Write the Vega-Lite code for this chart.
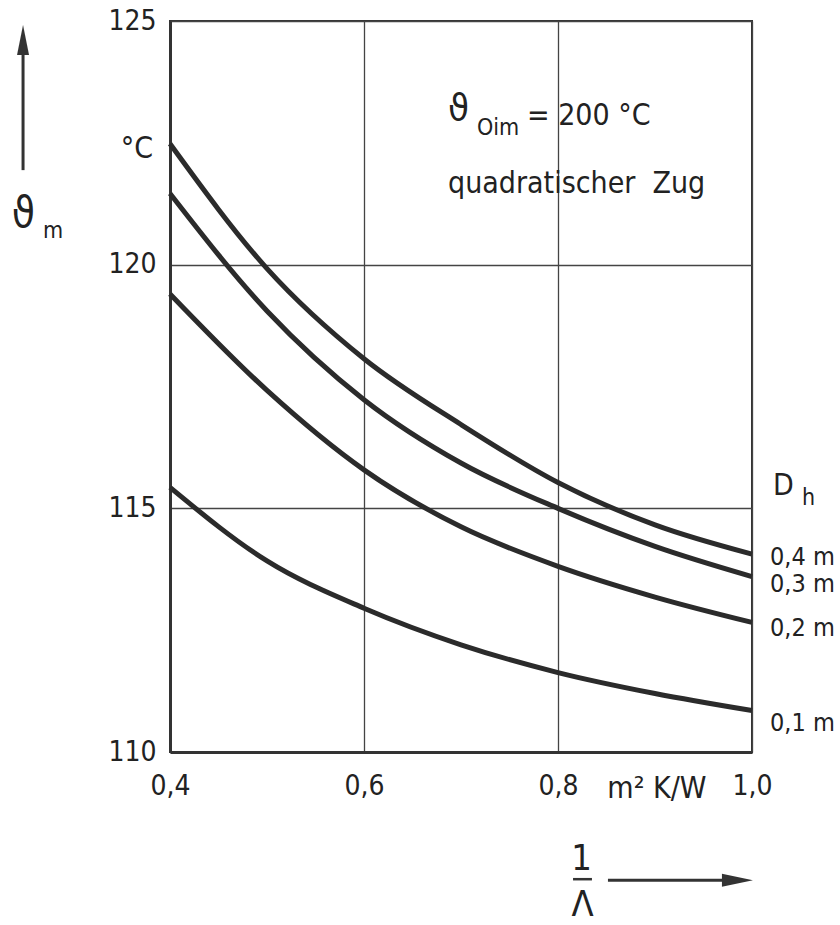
{
  "$schema": "https://vega.github.io/schema/vega-lite/v6.json",
  "width": 582,
  "height": 731,
  "autosize": {"type": "none"},
  "padding": {"left": 170, "top": 21, "right": 88, "bottom": 173},
  "background": "white",
  "config": {
    "font": "DejaVu Sans Condensed",
    "view": {"stroke": "#333", "strokeWidth": 2},
    "text": {"font": "DejaVu Sans Condensed", "color": "#222", "baseline": "alphabetic"}
  },
  "datasets": {
    "curves": [
      {"D": "0,4 m", "x": 0.4, "y": 122.48},
      {"D": "0,4 m", "x": 0.5, "y": 119.92},
      {"D": "0,4 m", "x": 0.6, "y": 118.07},
      {"D": "0,4 m", "x": 0.7, "y": 116.72},
      {"D": "0,4 m", "x": 0.8, "y": 115.53},
      {"D": "0,4 m", "x": 0.9, "y": 114.66},
      {"D": "0,4 m", "x": 1.0, "y": 114.06},
      {"D": "0,3 m", "x": 0.4, "y": 121.46},
      {"D": "0,3 m", "x": 0.5, "y": 119.05},
      {"D": "0,3 m", "x": 0.6, "y": 117.23},
      {"D": "0,3 m", "x": 0.7, "y": 115.93},
      {"D": "0,3 m", "x": 0.8, "y": 115.0},
      {"D": "0,3 m", "x": 0.9, "y": 114.22},
      {"D": "0,3 m", "x": 1.0, "y": 113.6},
      {"D": "0,2 m", "x": 0.4, "y": 119.4},
      {"D": "0,2 m", "x": 0.5, "y": 117.42},
      {"D": "0,2 m", "x": 0.6, "y": 115.79},
      {"D": "0,2 m", "x": 0.7, "y": 114.62},
      {"D": "0,2 m", "x": 0.8, "y": 113.81},
      {"D": "0,2 m", "x": 0.9, "y": 113.18},
      {"D": "0,2 m", "x": 1.0, "y": 112.66},
      {"D": "0,1 m", "x": 0.4, "y": 115.43},
      {"D": "0,1 m", "x": 0.5, "y": 113.92},
      {"D": "0,1 m", "x": 0.6, "y": 112.95},
      {"D": "0,1 m", "x": 0.7, "y": 112.2},
      {"D": "0,1 m", "x": 0.8, "y": 111.63},
      {"D": "0,1 m", "x": 0.9, "y": 111.2},
      {"D": "0,1 m", "x": 1.0, "y": 110.85}
    ]
  },
  "encoding": {
    "x": {
      "field": "x", "type": "quantitative",
      "scale": {"domain": [0.4, 1.0], "nice": false, "zero": false},
      "axis": {
        "title": null, "values": [0.4, 0.6, 0.8, 1.0],
        "labelExpr": "replace(format(datum.value, '.1f'), '.', ',')",
        "ticks": false, "grid": true, "gridColor": "#444", "gridWidth": 1.3,
        "domainColor": "#333", "domainWidth": 3,
        "labelFontSize": 28, "labelFont": "DejaVu Sans Condensed", "labelColor": "#222",
        "labelPadding": 20, "labelFlush": false
      }
    },
    "y": {
      "field": "y", "type": "quantitative",
      "scale": {"domain": [110, 125], "nice": false, "zero": false},
      "axis": {
        "title": null, "values": [110, 115, 120, 125], "format": "d",
        "ticks": false, "grid": true, "gridColor": "#444", "gridWidth": 1.3,
        "domainColor": "#333", "domainWidth": 3,
        "labelFontSize": 28, "labelFont": "DejaVu Sans Condensed", "labelColor": "#222",
        "labelPadding": 14
      }
    }
  },
  "layer": [
    {
      "data": {"name": "curves"},
      "mark": {"type": "line", "interpolate": "monotone", "strokeWidth": 5, "color": "#2b2b2b", "strokeCap": "butt"},
      "encoding": {"detail": {"field": "D"}}
    },
    {
      "data": {"values": [
        {"x": 1.0186, "y": 113.83, "t": "0,4 m"},
        {"x": 1.0186, "y": 113.28, "t": "0,3 m"},
        {"x": 1.0186, "y": 112.39, "t": "0,2 m"},
        {"x": 1.0186, "y": 110.44, "t": "0,1 m"}
      ]},
      "mark": {"type": "text", "align": "left", "fontSize": 25},
      "encoding": {"text": {"field": "t"}}
    },
    {
      "data": {"values": [
        {"x": 0.768, "y": 122.86, "t": "= 200 °C"},
        {"x": 0.6866, "y": 121.47, "t": "quadratischer\u00a0\u00a0Zug"},
        {"x": 1.0216, "y": 115.27, "t": "D"}
      ]},
      "mark": {"type": "text", "align": "left", "fontSize": 30},
      "encoding": {"text": {"field": "t"}}
    },
    {
      "data": {"values": [
        {"x": 0.3825, "y": 122.19, "t": "°C"}
      ]},
      "mark": {"type": "text", "align": "right", "fontSize": 30},
      "encoding": {"text": {"field": "t"}}
    },
    {
      "data": {"values": [
        {"x": 0.902, "y": 109.05, "t": "m² K/W"}
      ]},
      "mark": {"type": "text", "align": "center", "fontSize": 30},
      "encoding": {"text": {"field": "t"}}
    },
    {
      "data": {"values": [
        {"x": 0.7165, "y": 122.66, "t": "Oim"},
        {"x": 1.0515, "y": 115.06, "t": "h"},
        {"x": 0.269, "y": 120.54, "t": "m"}
      ]},
      "mark": {"type": "text", "align": "left", "fontSize": 23},
      "encoding": {"text": {"field": "t"}}
    },
    {
      "data": {"values": [
        {"x": 0.6866, "y": 122.97, "t": "ϑ"}
      ]},
      "mark": {"type": "text", "align": "left", "fontSize": 38},
      "encoding": {"text": {"field": "t"}}
    },
    {
      "data": {"values": [
        {"x": 0.249, "y": 120.77, "t": "ϑ"}
      ]},
      "mark": {"type": "text", "align": "center", "fontSize": 42},
      "encoding": {"text": {"field": "t"}}
    },
    {
      "data": {"values": [
        {"x": 0.8242, "y": 107.57, "t": "1"},
        {"x": 0.8253, "y": 106.64, "t": "Λ"}
      ]},
      "mark": {"type": "text", "align": "center", "fontSize": 36},
      "encoding": {"text": {"field": "t"}}
    },
    {
      "data": {"values": [
        {"x": 0.2485, "x2": 0.2485, "y": 124.4, "y2": 121.94},
        {"x": 0.8515, "x2": 0.972, "y": 107.37, "y2": 107.37}
      ]},
      "mark": {"type": "rule", "strokeWidth": 3, "color": "#333"},
      "encoding": {"x2": {"field": "x2"}, "y2": {"field": "y2"}}
    },
    {
      "data": {"values": [
        {"x": 0.8155, "x2": 0.835, "y": 107.39}
      ]},
      "mark": {"type": "rule", "strokeWidth": 2.5, "color": "#333"},
      "encoding": {"x2": {"field": "x2"}}
    },
    {
      "data": {"values": [
        {"x": 0.2485, "y": 124.61}
      ]},
      "mark": {"type": "point", "shape": "M0,-1L0.4,1L-0.4,1Z", "size": 900, "filled": true, "color": "#333", "opacity": 1, "strokeWidth": 0},
      "encoding": {}
    },
    {
      "data": {"values": [
        {"x": 0.985, "y": 107.37}
      ]},
      "mark": {"type": "point", "shape": "M1,0L-1,-0.42L-1,0.42Z", "size": 961, "filled": true, "color": "#333", "opacity": 1, "strokeWidth": 0},
      "encoding": {}
    }
  ]
}
